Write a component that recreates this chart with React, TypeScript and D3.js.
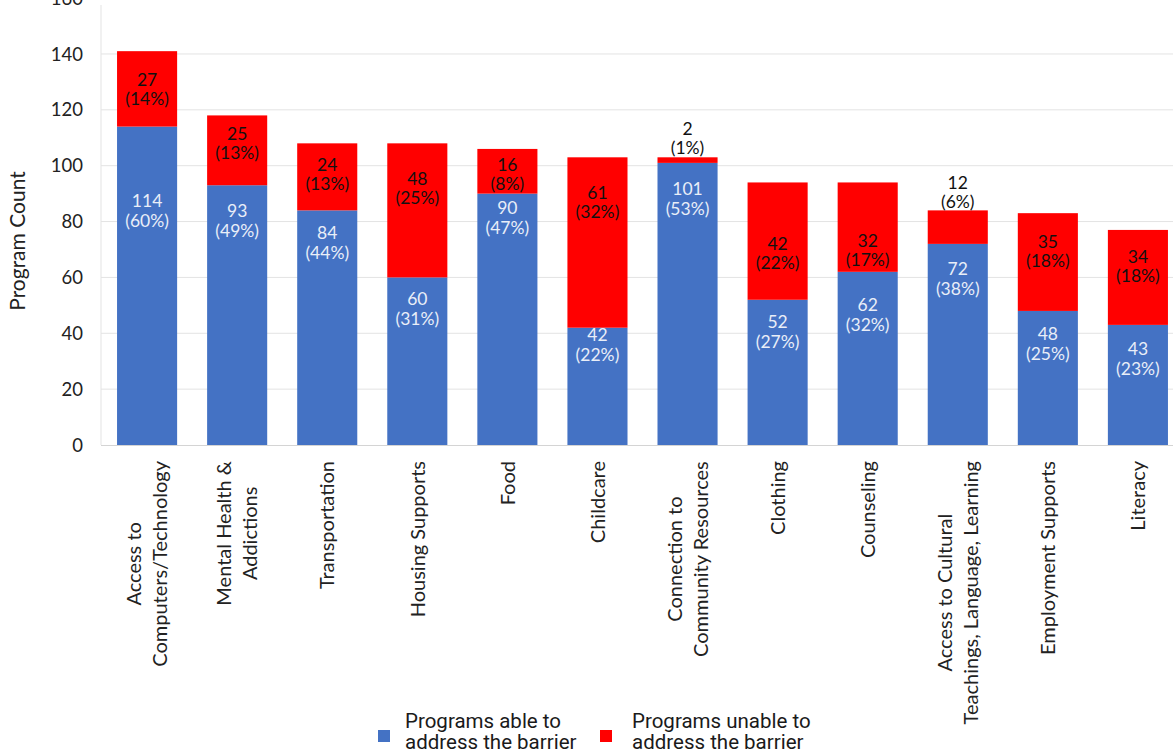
import React from "react";
import * as d3 from "d3";

const categories: string[][] = [
  ["Access to", "Computers/Technology"],
  ["Mental Health &", "Addictions"],
  ["Transportation"],
  ["Housing Supports"],
  ["Food"],
  ["Childcare"],
  ["Connection to", "Community Resources"],
  ["Clothing"],
  ["Counseling"],
  ["Access to Cultural", "Teachings, Language, Learning"],
  ["Employment Supports"],
  ["Literacy"],
];
const ableValues = [114, 93, 84, 60, 90, 42, 101, 52, 62, 72, 48, 43];
const ablePct = [60, 49, 44, 31, 47, 22, 53, 27, 32, 38, 25, 23];
const unableValues = [27, 25, 24, 48, 16, 61, 2, 42, 32, 12, 35, 34];
const unablePct = [14, 13, 13, 25, 8, 32, 1, 22, 17, 6, 18, 18];
// label anchor positions in data units (as placed in the original)
const ableLabelAt = [84, 80.4, 72.3, 48.7, 81.3, 35.8, 88.2, 40.5, 46.5, 59.4, 36.2, 30.8];
const unableLabelAt = [127.5, 108, 97, 92, 97, 87, 109.7, 68.7, 69.8, 90.6, 69.5, 64];
const yTicks = [0, 20, 40, 60, 80, 100, 120, 140, 160];
const legendItems = [
  { lines: ["Programs able to", "address the barrier"], color: "#4472C4" },
  { lines: ["Programs unable to", "address the barrier"], color: "#FF0000" },
];

const W = 1173;
const H = 753;
const FONT = "Lato, 'Open Sans', sans-serif";

let ctx: CanvasRenderingContext2D | null = null;
function measure(t: string, font: string) {
  if (!ctx) ctx = document.createElement("canvas").getContext("2d");
  if (!ctx) return t.length * 9;
  ctx.font = font;
  return ctx.measureText(t).width;
}

export default function App() {
  const keys = categories.map((c) => c.join(" "));
  const x = d3
    .scaleBand<string>()
    .domain(keys)
    .range([102, 1183])
    .paddingInner(0.333)
    .paddingOuter(0.167);
  const y = d3.scaleLinear().domain([0, 160]).range([445, -1.9]);
  const bw = x.bandwidth();
  const catFontSize = 20;
  const catLH = 26;

  return (
    <svg
      width={W}
      height={H}
      style={{ position: "absolute", left: 0, top: 0, background: "#fff" }}
      fontFamily={FONT}
    >
      {/* gridlines */}
      {yTicks.filter((t) => t > 0).map((t) => (
        <line key={t} x1={101} x2={W} y1={y(t)} y2={y(t)} stroke="#e3e3e3" strokeWidth={1} />
      ))}
      <line x1={101} x2={101} y1={5} y2={y(0)} stroke="#e3e3e3" strokeWidth={1} />
      {/* tick labels */}
      {yTicks.map((t) => (
        <text key={t} x={83} y={y(t)} dy="0.36em" textAnchor="end" fontSize={18.5} fill="#222">
          {t}
        </text>
      ))}
      <text
        transform={`translate(17,${241}) rotate(-90)`}
        textAnchor="middle"
        dy="0.36em"
        fontSize={21}
        fill="#222"
      >
        Program Count
      </text>
      {/* bars */}
      {keys.map((k, i) => {
        const x0 = x(k)!;
        const a = ableValues[i];
        const u = unableValues[i];
        return (
          <g key={k}>
            <rect x={x0} width={bw} y={y(a)} height={y(0) - y(a)} fill="#4472C4" />
            <rect x={x0} width={bw} y={y(a + u)} height={y(a) - y(a + u)} fill="#FF0000" />
          </g>
        );
      })}
      {/* baseline */}
      <line x1={101} x2={W} y1={y(0) + 0.5} y2={y(0) + 0.5} stroke="#d4d4d4" strokeWidth={1} />
      {/* data labels */}
      {keys.map((k, i) => {
        const cx = x(k)! + bw / 2;
        const ya = y(ableLabelAt[i]);
        const yu = y(unableLabelAt[i]);
        return (
          <g key={k} fontSize={17.5} textAnchor="middle">
            <text x={cx} y={ya - 10} dy="0.36em" fill="#e9eef8">{ableValues[i]}</text>
            <text x={cx} y={ya + 10} dy="0.36em" fill="#e9eef8">({ablePct[i]}%)</text>
            <text x={cx} y={yu - 9.5} dy="0.36em" fill="#111">{unableValues[i]}</text>
            <text x={cx} y={yu + 9.5} dy="0.36em" fill="#111">({unablePct[i]}%)</text>
          </g>
        );
      })}
      {/* category labels */}
      {categories.map((lines, i) => {
        const k = keys[i];
        const cx = x(k)! + bw / 2;
        const font = `${catFontSize}px ${FONT}`;
        const maxLen = Math.max(...lines.map((l) => measure(l, font)));
        const cy = 461 + maxLen / 2;
        return (
          <text
            key={k}
            transform={`translate(${cx},${cy}) rotate(-90)`}
            textAnchor="middle"
            fontSize={catFontSize}
            fill="#222"
          >
            {lines.map((l, j) => (
              <tspan key={j} x={0} y={(j - (lines.length - 1) / 2) * catLH} dy="0.36em">
                {l}
              </tspan>
            ))}
          </text>
        );
      })}
      {/* legend */}
      {legendItems.map((it, i) => {
        const lx = i === 0 ? 378 : 600;
        const tx = i === 0 ? 405 : 632;
        return (
          <g key={i}>
            <rect x={lx} y={730} width={12} height={12} fill={it.color} />
            <text
              x={tx}
              y={728}
              fontSize={20.5}
              fontFamily="Roboto, sans-serif"
              fill="#1a1a1a"
            >
              {it.lines.map((l, j) => (
                <tspan key={j} x={tx} y={728 + j * 21}>
                  {l}
                </tspan>
              ))}
            </text>
          </g>
        );
      })}
    </svg>
  );
}
